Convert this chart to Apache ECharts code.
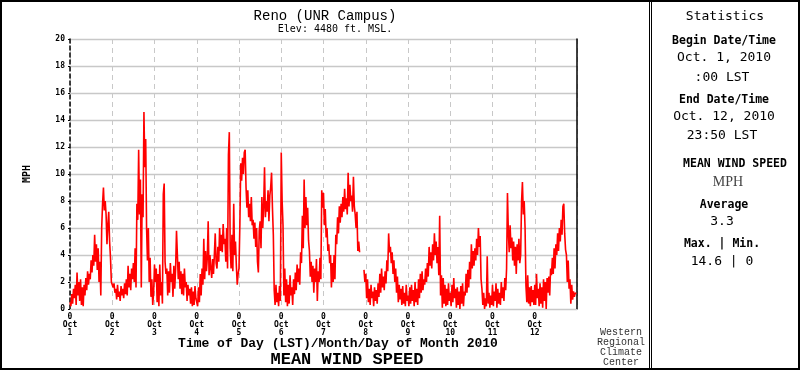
<!DOCTYPE html>
<html><head><meta charset="utf-8">
<script src="https://cdn.jsdelivr.net/npm/echarts@6/dist/echarts.min.js"></script>
<style>html,body{margin:0;padding:0;background:#fff}#c{width:800px;height:370px}</style>
</head><body><div id="c"></div>
<script>
// Half-hourly mean wind speed (MPH), Oct 1-12 2010
const oct1 = [0.5,0.2,1.1,0.4, 1.5,0.8,1.8,0.3, 2.7,1.0,2.0,0.6, 2.2,0.3,1.6,0.2, 1.8,1.0,2.3,1.4, 2.8,1.8,2.6,2.2, 3.6,2.7,4.0,3.2, 5.5,3.5,4.8,2.9, 4.5,2.0,3.5,1.0, 6.0,7.8,9.0,7.3, 8.0,7.0,4.8,6.2, 7.2,5.0,3.8,2.0];
const oct2 = [2.0,1.6,1.9,1.2, 1.5,0.7,1.8,0.9, 1.3,0.6,1.7,1.0, 1.5,0.8,1.9,1.1, 2.2,1.0,3.2,1.6, 2.6,1.4,3.0,2.2, 3.4,2.0,4.5,1.6, 7.8,6.6,11.8,7.0, 9.6,1.6,8.5,6.8, 14.6,10.5,12.6,6.0, 3.6,6.0,2.0,3.8, 0.9,2.2,0.3,1.2];
const oct3 = [3.3,2.0,3.0,0.5, 2.6,0.2,3.3,1.0, 2.0,0.4,8.5,9.3, 3.5,2.6,3.0,1.0, 2.8,1.2,3.4,2.0, 2.6,0.9,3.2,1.5, 3.0,5.8,4.0,2.2, 3.5,1.5,2.8,1.1, 2.6,1.0,3.0,1.6, 2.0,0.6,1.8,1.0, 1.5,0.4,1.6,0.2, 1.3,0.3,1.7,0.8];
const oct4 = [0.8,0.2,1.6,0.5, 2.6,1.0,3.0,1.8, 5.2,2.2,4.3,2.8, 3.8,6.5,2.5,4.0, 3.0,2.3,3.7,2.6, 4.0,5.6,3.4,3.0, 4.6,3.5,6.0,4.3, 5.5,4.2,6.3,4.8, 5.2,3.5,6.0,3.0, 11.4,13.1,4.5,3.0, 5.5,2.8,7.8,4.0, 5.0,3.2,1.8,2.6];
const oct5 = [3.0,6.3,10.8,9.5, 11.2,10.0,11.6,11.8, 9.0,7.5,8.8,6.8, 7.8,6.5,8.3,6.2, 6.6,5.2,6.4,4.6, 6.0,3.5,2.7,5.8, 6.5,4.5,8.3,6.0, 7.5,10.5,6.8,8.0, 7.2,8.8,6.5,8.4, 9.0,10.1,7.5,5.5, 1.4,0.3,1.8,0.5, 1.2,0.2,1.7,0.6];
const oct6 = [11.6,8.0,6.2,1.0, 3.0,0.5,2.2,0.2, 1.8,0.4,2.5,1.0, 1.6,0.3,2.2,1.1, 2.7,1.4,3.3,2.0, 3.0,1.8,4.2,3.4, 6.9,4.5,9.6,6.0, 8.3,6.2,7.5,5.1, 4.3,2.4,3.5,2.0, 3.2,1.2,3.0,2.0, 3.7,0.6,2.8,2.0, 3.8,2.2,8.8,7.5];
const oct7 = [8.6,6.2,7.4,5.3, 6.0,4.3,4.8,3.4, 4.0,1.6,3.4,2.0, 4.0,2.2,5.5,4.8, 6.8,5.6,7.6,6.4, 7.8,6.8,8.3,7.2, 8.9,7.4,8.2,7.0, 10.1,7.6,9.2,8.0, 8.4,7.2,9.8,7.6, 7.0,6.0,7.2,4.3, 5.0,4.2,null,null, null,null,2.9,2.0];
const oct8 = [2.6,0.8,2.2,0.5, 1.5,0.3,1.8,0.8, 1.3,0.2,1.6,0.6, 1.4,0.4,1.9,0.9, 2.6,1.2,3.0,1.6, 2.4,1.4,2.8,1.9, 3.6,2.8,5.6,4.2, 4.6,3.4,4.2,2.6, 3.6,2.0,3.0,1.2, 2.4,0.5,1.8,0.7, 1.5,0.3,1.7,0.4, 1.2,0.2,1.8,0.6];
const oct9 = [1.0,0.2,1.6,0.4, 1.8,0.6,1.4,0.2, 2.0,0.5,1.5,0.3, 2.2,0.8,2.6,1.2, 2.8,1.4,2.2,1.8, 3.0,2.0,3.4,2.4, 4.6,3.2,4.2,3.0, 4.8,3.6,5.6,4.0, 5.0,3.4,4.6,2.5, 6.9,1.0,2.5,0.1, 2.3,0.4,1.8,0.2, 1.5,0.3,1.9,0.6];
const oct10 = [1.2,0.2,1.8,0.5, 2.3,0.8,1.5,0.1, 1.6,0.3,1.3,0.0, 1.7,0.4,1.9,0.2, 1.3,1.0,2.6,1.2, 2.9,1.6,3.5,2.2, 4.8,3.0,4.3,3.2, 4.5,3.6,5.2,4.0, 6.0,4.6,5.4,2.2, 1.5,0.3,1.2,0.0, 0.8,0.2,3.9,0.4, 1.2,0.1,1.0,0.3];
const oct11 = [1.8,0.2,1.3,0.6, 1.9,0.1,1.5,0.4, 1.2,0.3,2.0,0.8, 1.6,0.6,2.3,1.4, 3.0,8.6,5.7,4.2, 6.2,4.5,5.3,3.6, 5.0,3.2,4.6,2.6, 4.8,3.6,5.2,3.4, 4.0,7.9,9.4,7.0, 8.0,6.0,1.7,0.5, 2.5,0.4,1.6,0.2, 1.7,0.5,1.4,0.3];
const oct12 = [1.8,0.3,2.6,0.8, 1.5,0.2,1.9,0.4, 1.6,0.1,2.2,0.6, 2.0,0.0,2.3,1.2, 2.4,1.0,3.0,2.5, 3.8,2.6,4.5,3.0, 4.8,4.0,5.6,4.3, 6.0,5.0,6.6,5.5, 7.6,7.8,5.6,4.4, 4.0,2.0,3.6,1.5, 2.2,0.4,1.8,0.7, 1.3,0.9,1.2,1.1];
const dayNumbers = [1,2,3,4,5,6,7,8,9,10,11,12];
const yTicks = [0,2,4,6,8,10,12,14,16,18,20];

const days = [oct1,oct2,oct3,oct4,oct5,oct6,oct7,oct8,oct9,oct10,oct11,oct12];
const seriesData = [];
days.forEach((arr, d) => arr.forEach((v, i) => {
  seriesData.push([d * 24 + i * 0.5, v === null ? '-' : v]);
}));

const MONO = '"Liberation Mono","DejaVu Sans Mono",monospace';
const SMONO = '"DejaVu Sans Mono",monospace';
const chart = echarts.init(document.getElementById('c'), null, {renderer: 'canvas'});
const statX = 724;
function t(txt, x, y, font, size, weight, color) {
  return {type: 'text', x: x, y: y, style: {text: txt, x: 0, y: 0, fill: color || '#000', font: (weight || 'normal') + ' ' + size + 'px ' + font, textAlign: 'center', textVerticalAlign: 'middle'}};
}
chart.setOption({
  animation: false,
  backgroundColor: '#fff',
  grid: {left: 70, top: 39, width: 507, height: 270, containLabel: false},
  xAxis: {
    type: 'value', min: 0, max: 288, interval: 24,
    axisLine: {show: true, lineStyle: {color: '#c8c8c8', width: 1}},
    axisTick: {show: false},
    splitLine: {show: true, lineStyle: {color: '#c8c8c8', type: [5, 4], width: 1}},
    axisLabel: {
      margin: 4, color: '#000', fontFamily: SMONO, fontWeight: 'bold', fontSize: 8, lineHeight: 8,
      formatter: v => (v < 288 ? '0\nOct\n' + dayNumbers[v / 24] : '')
    }
  },
  yAxis: [{
    type: 'value', min: yTicks[0], max: yTicks[yTicks.length - 1], interval: 2,
    axisLine: {show: true, lineStyle: {color: '#000', type: [4, 3], width: 1.5}},
    axisTick: {show: true, length: 2, lineStyle: {color: '#000'}},
    splitLine: {show: true, lineStyle: {color: '#c8c8c8', width: 1.3}},
    axisLabel: {margin: 5, color: '#000', fontFamily: SMONO, fontWeight: 'bold', fontSize: 8},
    name: 'MPH', nameLocation: 'middle', nameGap: 38, nameRotate: 90,
    nameTextStyle: {fontFamily: SMONO, fontWeight: 'bold', fontSize: 10, color: '#000'}
  }, {
    type: 'value', position: 'right', min: 0, max: 20, interval: 2,
    axisLine: {show: true, lineStyle: {color: '#000', width: 1.5}},
    axisTick: {show: false}, axisLabel: {show: false}, splitLine: {show: false}
  }],
  series: [{
    type: 'line', data: seriesData, showSymbol: false, symbol: 'none',
    connectNulls: false,
    lineStyle: {color: '#ff0000', width: 1.6}
  }],
  graphic: [
    {type: 'rect', shape: {x: 1, y: 1, width: 798, height: 368}, style: {fill: 'none', stroke: '#000', lineWidth: 2}, silent: true},
    {type: 'line', shape: {x1: 649.5, y1: 0, x2: 649.5, y2: 370}, style: {stroke: '#000', lineWidth: 1}},
    {type: 'line', shape: {x1: 651.5, y1: 0, x2: 651.5, y2: 370}, style: {stroke: '#000', lineWidth: 1}},
    t('Reno (UNR Campus)', 325, 16, MONO, 14, 'normal'),
    t('Elev: 4480 ft. MSL.', 335, 29, SMONO, 10, 'normal'),
    t('Time of Day (LST)/Month/Day of Month 2010', 338, 344, MONO, 13, 'bold'),
    t('MEAN WIND SPEED', 347, 360, MONO, 17, 'bold'),
    t('Western', 621, 332, MONO, 10, 'normal', '#333'),
    t('Regional', 621, 342, MONO, 10, 'normal', '#333'),
    t('Climate', 621, 352, MONO, 10, 'normal', '#333'),
    t('Center', 621, 362, MONO, 10, 'normal', '#333'),
    t('Statistics', 725, 17, SMONO, 13, 'normal'),
    t('Begin Date/Time', statX, 41, SMONO, 11.5, 'bold'),
    t('Oct. 1, 2010', statX, 58, SMONO, 13, 'normal'),
    t(':00 LST', 722, 78, SMONO, 13, 'normal'),
    t('End Date/Time', statX, 100, SMONO, 11.5, 'bold'),
    t('Oct. 12, 2010', statX, 117, SMONO, 13, 'normal'),
    t('23:50 LST', 722, 136, SMONO, 13, 'normal'),
    t('MEAN WIND SPEED', 735, 164, SMONO, 11.5, 'bold'),
    t('MPH', 728, 182, '"Liberation Serif",serif', 14, 'normal', '#444'),
    t('Average', 724, 205, SMONO, 11.5, 'bold'),
    t('3.3', 722, 222, SMONO, 13, 'normal'),
    t('Max. | Min.', 722, 244, SMONO, 11.5, 'bold'),
    t('14.6 | 0', 722, 262, SMONO, 13, 'normal')
  ]
});
</script></body></html>
